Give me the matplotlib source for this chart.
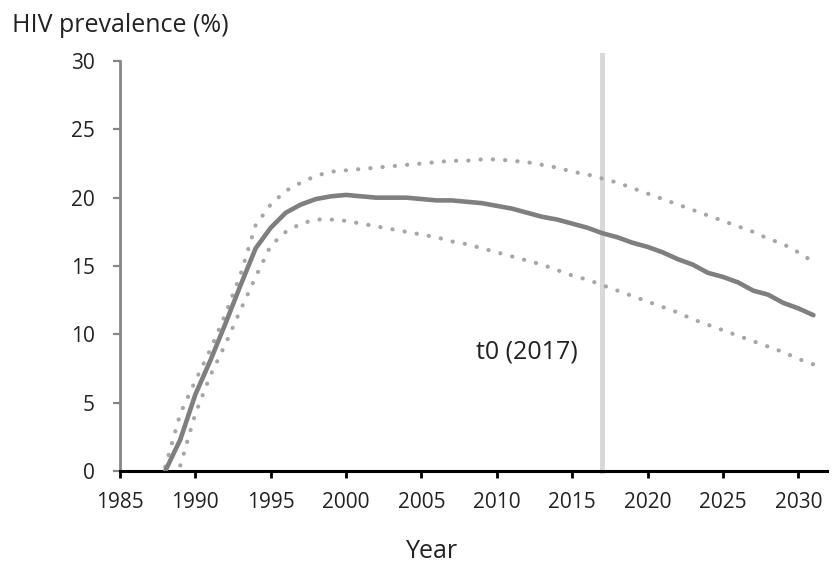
import matplotlib
matplotlib.use('Agg')
import matplotlib.pyplot as plt
import numpy as np

plt.rcParams['font.family'] = ['Open Sans', 'DejaVu Sans']

# central estimate, 1988-2031
years_mid = list(range(1988, 2032))
prev_mid = [0.0, 2.3, 5.6, 8.1, 10.8, 13.6, 16.3, 17.8, 18.9, 19.5,
            19.9, 20.1, 20.2, 20.1, 20.0, 20.0, 20.0, 19.9, 19.8, 19.8,
            19.7, 19.6, 19.4, 19.2, 18.9, 18.6, 18.4, 18.1, 17.8, 17.4,
            17.1, 16.7, 16.4, 16.0, 15.5, 15.1, 14.5, 14.2, 13.8, 13.2,
            12.9, 12.3, 11.9, 11.4]

# upper bound, 1988-2031
years_hi = list(range(1988, 2032))
prev_hi = [0.3, 4.2, 6.6, 8.9, 11.5, 14.4, 18.0, 19.5, 20.5, 21.1,
           21.6, 21.9, 22.0, 22.1, 22.2, 22.3, 22.4, 22.5, 22.6, 22.7,
           22.7, 22.8, 22.8, 22.7, 22.6, 22.4, 22.2, 21.9, 21.7, 21.4,
           21.1, 20.7, 20.3, 19.9, 19.5, 19.1, 18.7, 18.3, 17.9, 17.5,
           17.0, 16.6, 16.0, 15.3]

# lower bound, 1989-2031
years_lo = list(range(1989, 2032))
prev_lo = [0.4, 4.2, 7.0, 9.3, 11.8, 14.2, 16.5, 17.5, 18.1, 18.4,
           18.4, 18.3, 18.1, 17.9, 17.7, 17.5, 17.3, 17.1, 16.8, 16.6,
           16.3, 16.0, 15.7, 15.4, 15.1, 14.7, 14.3, 14.0, 13.6, 13.2,
           12.8, 12.4, 12.0, 11.6, 11.1, 10.7, 10.3, 9.9, 9.5, 9.1,
           8.7, 8.2, 7.8]

t0 = 2017
x_ticks = list(range(1985, 2031, 5))
y_ticks = list(range(0, 31, 5))

fig = plt.figure(figsize=(8.34, 5.74), dpi=100)
ax = fig.add_axes([120/834, 1-471/574, (827-120)/834, (471-61)/574])

ax.axvline(t0, ymin=0, ymax=1.015, color='#d9d9d9', lw=3.6, clip_on=False, zorder=1)

dot = (0, (0.05, 2.9))
ax.plot(years_hi, prev_hi, color='#a6a6a6', lw=3.0, linestyle=dot,
        dash_capstyle='round', zorder=2)
ax.plot(years_lo, prev_lo, color='#a6a6a6', lw=3.0, linestyle=dot,
        dash_capstyle='round', zorder=2)
ax.plot(years_mid, prev_mid, color='#7f7f7f', lw=3.3,
        solid_capstyle='round', zorder=3)

ax.text(2008.6, 8.7, 't0 (2017)', fontsize=18, va='center', ha='left', color='#222222')

ax.set_xlim(1985, 2031.9)
ax.set_ylim(0, 30)
ax.set_xticks(x_ticks)
ax.set_yticks(y_ticks)

for s in ['top', 'right']:
    ax.spines[s].set_visible(False)
ax.spines['left'].set_color('#868686')
ax.spines['left'].set_linewidth(2.0)
ax.spines['bottom'].set_color('black')
ax.spines['bottom'].set_linewidth(2.2)

ax.tick_params(axis='y', direction='out', length=5, width=1.6, color='#868686',
               pad=13, labelsize=15, labelcolor='#222222')
ax.tick_params(axis='x', direction='out', length=5, width=2.0, color='black',
               pad=10, labelsize=15, labelcolor='#222222')

fig.text(12/834, 1-25/574, 'HIV prevalence (%)', fontsize=18, va='center', ha='left', color='#222222')
fig.text(432/834, 1-552/574, 'Year', fontsize=18, va='center', ha='center', color='#222222')

fig.savefig('out.png', dpi=100)
